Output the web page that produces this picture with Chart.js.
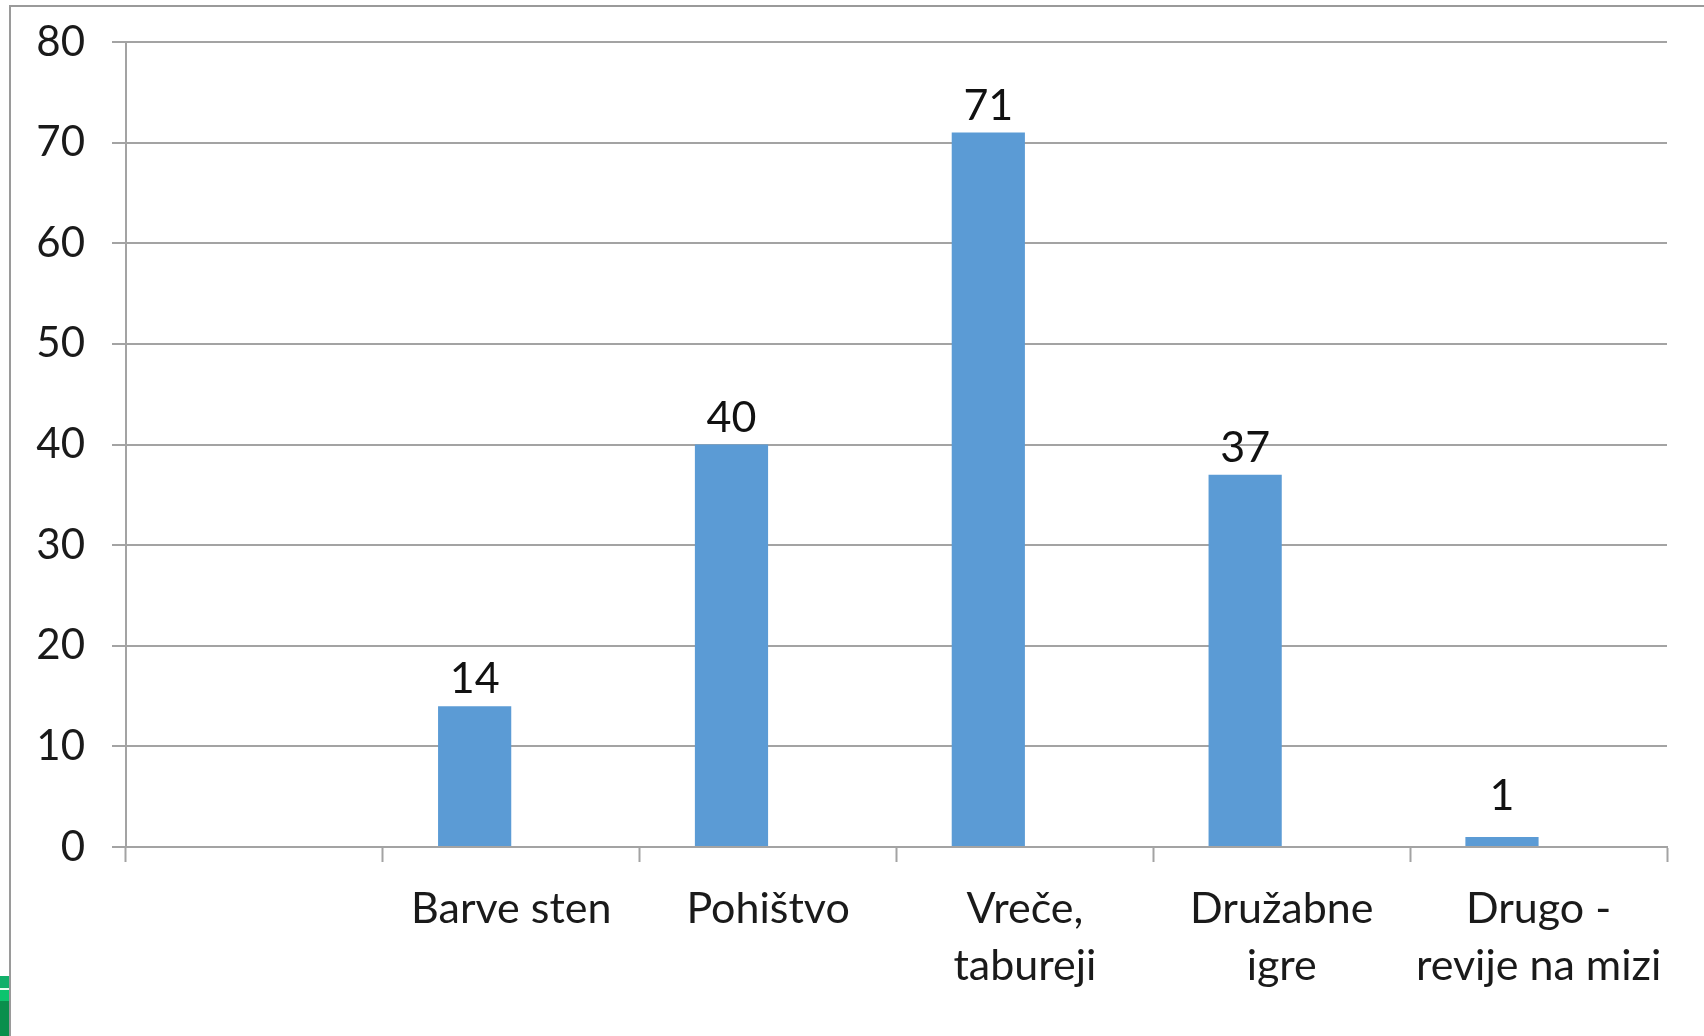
<!DOCTYPE html>
<html>
<head>
<meta charset="utf-8">
<script src="https://cdn.jsdelivr.net/npm/chart.js@4"></script>
<style>
    html, body { margin: 0; padding: 0; background: #fff; }
    #wrap { position: relative; width: 1704px; height: 1036px; overflow: hidden; }
    #frame { position: absolute; left: 9px; top: 5px; width: 1800px; height: 1100px;
             border-left: 2px solid #9a9a9a; border-top: 2px solid #9a9a9a; }
    .g { position: absolute; left: 0; width: 9px; }
</style>
</head>
<body>
<div id="wrap">
    <div id="frame"></div>
    <div class="g" style="top:976px;height:12px;background:#12b06a"></div>
    <div class="g" style="top:988px;height:2px;background:#e8fff0"></div>
    <div class="g" style="top:990px;height:11px;background:#0cc46e"></div>
    <div class="g" style="top:1001px;height:35px;background:#0a8f4c"></div>
    <canvas id="chart" width="1704" height="1036" style="position:absolute;left:0;top:0"></canvas>
</div>
<script>
const categories = ['', 'Barve sten', 'Pohištvo', ['Vreče,', 'tabureji'], ['Družabne', 'igre'], ['Drugo -', 'revije na mizi']];
const values = [null, 14, 40, 71, 37, 1];
// druga serija v izvorni tabeli je prazna, zato so stolpci zamaknjeni levo
const emptySeries = [null, null, null, null, null, null];
const yTicks = [0, 10, 20, 30, 40, 50, 60, 70, 80];

const FONT = 'Lato, "Open Sans", sans-serif';
const GRID = '#a3a3a3';

// napisi vrednosti nad stolpci
const valueLabels = {
    id: 'valueLabels',
    afterDatasetsDraw(chart) {
        const ctx = chart.ctx;
        const meta = chart.getDatasetMeta(0);
        const zero = chart.scales.y.getPixelForValue(0);
        ctx.save();
        ctx.font = '43px ' + FONT;
        ctx.fillStyle = '#111';
        ctx.textAlign = 'center';
        ctx.textBaseline = 'alphabetic';
        meta.data.forEach((bar, i) => {
            if (values[i] === null) return;
            // pri zelo nizkih stolpcih je napis nekoliko višje
            const y = Math.min(bar.y - 13, zero - 37);
            ctx.fillText(String(values[i]), bar.x, y);
        });
        ctx.restore();
    }
};

new Chart(document.getElementById('chart'), {
    type: 'bar',
    data: {
        labels: categories,
        datasets: [{
            data: values,
            backgroundColor: '#5b9bd5',
            borderWidth: 0,
            barPercentage: 1,
            categoryPercentage: 0.57
        }, {
            data: emptySeries,
            backgroundColor: '#ed7d31',
            borderWidth: 0,
            barPercentage: 1,
            categoryPercentage: 0.57
        }]
    },
    options: {
        responsive: false,
        animation: false,
        events: [],
        layout: { padding: { top: 42, right: 37, left: 0, bottom: 0 } },
        plugins: {
            legend: { display: false },
            tooltip: { enabled: false }
        },
        scales: {
            x: {
                offset: true,
                grid: {
                    offset: true,
                    drawOnChartArea: false,
                    drawTicks: true,
                    tickLength: 15,
                    tickWidth: 2,
                    tickColor: GRID
                },
                border: { display: true, color: GRID, width: 2 },
                ticks: {
                    font: { family: FONT, size: 43, lineHeight: 1.32 },
                    color: '#1a1a1a',
                    padding: 19,
                    maxRotation: 0,
                    autoSkip: false
                },
                afterFit(scale) { scale.height = 189; }
            },
            y: {
                min: 0,
                max: 80,
                afterBuildTicks(scale) { scale.ticks = yTicks.map(v => ({ value: v })); },
                grid: {
                    color: GRID,
                    lineWidth: 2,
                    tickLength: 14,
                    tickColor: GRID
                },
                border: { display: true, color: GRID, width: 2 },
                ticks: {
                    font: { family: FONT, size: 42, lineHeight: 0.8 },
                    color: '#1a1a1a',
                    padding: 27
                },
                afterFit(scale) {
                    scale.width = 126;
                    scale.paddingTop = 0;
                    scale.paddingBottom = 0;
                }
            }
        }
    },
    plugins: [valueLabels]
});
</script>
</body>
</html>
